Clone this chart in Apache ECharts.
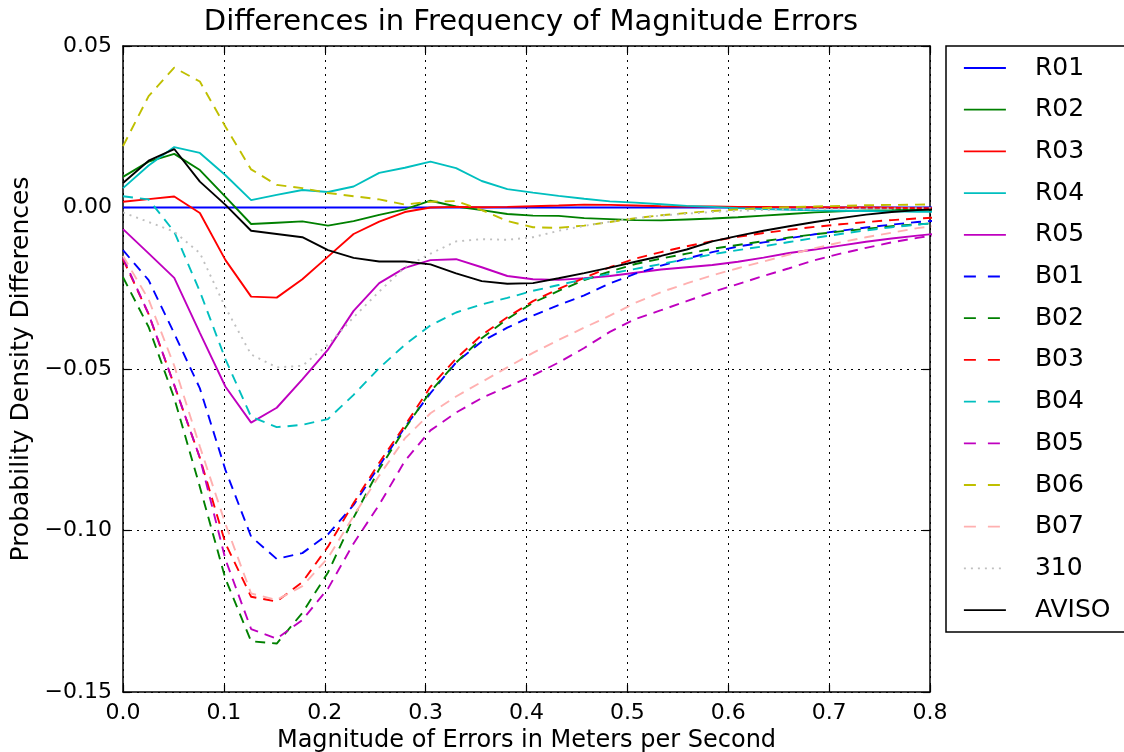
<!DOCTYPE html>
<html>
<head>
<meta charset="utf-8">
<script src="https://cdn.jsdelivr.net/npm/echarts@6/dist/echarts.min.js"></script>
<style>html,body{margin:0;padding:0;background:#fff;}#chart{width:1124px;height:752px;}</style>
</head>
<body>
<div id="chart"></div>
<script>
// x positions of the samples (m/s)
const xValues = [0.0000, 0.0254, 0.0508, 0.0762, 0.1016, 0.1270, 0.1524, 0.1778, 0.2032, 0.2286, 0.2540, 0.2794, 0.3048, 0.3302, 0.3556, 0.3810, 0.4064, 0.4318, 0.4572, 0.4826, 0.5080, 0.5334, 0.5588, 0.5842, 0.6096, 0.6350, 0.6604, 0.6858, 0.7112, 0.7366, 0.7620, 0.7874, 0.8128];

const R01 = [0,0,0,0,0,0,0,0,0,0,0,0,0,0,0,0,0,0,0,0,0,0,0,0,0,0,0,0,0,0,0,0,0];
const R02 = [0.0095,0.0142,0.0166,0.0116,0.0033,-0.0051,-0.0047,-0.0043,-0.0056,-0.0042,-0.0023,-0.0006,0.0021,0.0003,-0.0008,-0.0020,-0.0025,-0.0026,-0.0033,-0.0036,-0.0039,-0.0040,-0.0037,-0.0034,-0.0030,-0.0025,-0.0020,-0.0015,-0.0012,-0.0009,-0.0008,-0.0006,-0.0006];
const R03 = [0.0018,0.0026,0.0034,-0.0017,-0.0163,-0.0276,-0.0279,-0.0222,-0.0152,-0.0082,-0.0044,-0.0014,0.0000,0.0002,0.0001,0.0002,0.0004,0.0006,0.0009,0.0008,0.0006,0.0004,0.0003,0.0003,0.0002,0.0002,0.0001,0.0001,0.0000,0.0000,-0.0001,-0.0002,-0.0002];
const R04 = [0.0060,0.0130,0.0187,0.0169,0.0100,0.0023,0.0039,0.0054,0.0048,0.0065,0.0107,0.0123,0.0142,0.0122,0.0082,0.0057,0.0046,0.0036,0.0027,0.0019,0.0015,0.0010,0.0005,0.0002,-0.0002,-0.0005,-0.0007,-0.0009,-0.0010,-0.0011,-0.0012,-0.0013,-0.0014];
const R05 = [-0.0067,-0.0142,-0.0218,-0.0388,-0.0555,-0.0666,-0.0620,-0.0532,-0.0440,-0.0320,-0.0234,-0.0187,-0.0163,-0.0160,-0.0185,-0.0212,-0.0222,-0.0224,-0.0219,-0.0212,-0.0202,-0.0192,-0.0185,-0.0178,-0.0168,-0.0155,-0.0141,-0.0130,-0.0118,-0.0106,-0.0096,-0.0087,-0.0079];
const B01 = [-0.0132,-0.0225,-0.0390,-0.0560,-0.0813,-0.1019,-0.1088,-0.1070,-0.1012,-0.0921,-0.0800,-0.0680,-0.0575,-0.0480,-0.0415,-0.0372,-0.0335,-0.0302,-0.0272,-0.0235,-0.0205,-0.0180,-0.0158,-0.0138,-0.0121,-0.0108,-0.0095,-0.0083,-0.0072,-0.0062,-0.0053,-0.0045,-0.0039];
const B02 = [-0.0216,-0.0370,-0.0590,-0.0865,-0.1150,-0.1343,-0.1350,-0.1255,-0.1130,-0.0960,-0.0810,-0.0685,-0.0570,-0.0480,-0.0405,-0.0345,-0.0295,-0.0258,-0.0225,-0.0198,-0.0175,-0.0158,-0.0143,-0.0128,-0.0116,-0.0104,-0.0093,-0.0083,-0.0074,-0.0066,-0.0058,-0.0052,-0.0047];
const B03 = [-0.0160,-0.0330,-0.0550,-0.0775,-0.1040,-0.1205,-0.1220,-0.1160,-0.1050,-0.0915,-0.0790,-0.0675,-0.0555,-0.0468,-0.0395,-0.0340,-0.0290,-0.0252,-0.0218,-0.0185,-0.0158,-0.0138,-0.0120,-0.0104,-0.0091,-0.0079,-0.0069,-0.0060,-0.0052,-0.0045,-0.0039,-0.0034,-0.0030];
const B04 = [0.0035,0.0025,-0.0075,-0.0260,-0.0470,-0.0648,-0.0680,-0.0673,-0.0655,-0.0580,-0.0497,-0.0425,-0.0365,-0.0325,-0.0300,-0.0280,-0.0258,-0.0240,-0.0222,-0.0205,-0.0190,-0.0175,-0.0160,-0.0145,-0.0132,-0.0120,-0.0107,-0.0094,-0.0082,-0.0071,-0.0061,-0.0053,-0.0046];
const B05 = [-0.0155,-0.0330,-0.0550,-0.0775,-0.1090,-0.1305,-0.1335,-0.1277,-0.1180,-0.1040,-0.0920,-0.0785,-0.0690,-0.0635,-0.0590,-0.0555,-0.0520,-0.0480,-0.0435,-0.0385,-0.0345,-0.0318,-0.0290,-0.0262,-0.0237,-0.0212,-0.0188,-0.0163,-0.0143,-0.0125,-0.0108,-0.0094,-0.0082];
const B06 = [0.0190,0.0345,0.0433,0.0390,0.0250,0.0118,0.0070,0.0060,0.0045,0.0035,0.0025,0.0009,0.0018,0.0020,-0.0008,-0.0042,-0.0061,-0.0063,-0.0056,-0.0045,-0.0033,-0.0024,-0.0017,-0.0011,-0.0006,-0.0002,0.0001,0.0003,0.0005,0.0007,0.0008,0.0009,0.0010];
const B07 = [-0.0150,-0.0285,-0.0490,-0.0740,-0.0980,-0.1195,-0.1215,-0.1172,-0.1085,-0.0955,-0.0830,-0.0715,-0.0637,-0.0585,-0.0540,-0.0495,-0.0450,-0.0410,-0.0372,-0.0335,-0.0295,-0.0262,-0.0235,-0.0210,-0.0188,-0.0167,-0.0146,-0.0126,-0.0108,-0.0092,-0.0078,-0.0064,-0.0054];
const S310 = [-0.0015,-0.0045,-0.0075,-0.0141,-0.0310,-0.0455,-0.0495,-0.0490,-0.0425,-0.0340,-0.0260,-0.0185,-0.0143,-0.0105,-0.0098,-0.0100,-0.0092,-0.0072,-0.0057,-0.0044,-0.0033,-0.0025,-0.0019,-0.0014,-0.0010,-0.0008,-0.0006,-0.0005,-0.0004,-0.0003,-0.0003,-0.0002,-0.0002];
const AVISO = [0.0076,0.0145,0.0181,0.0080,0.0008,-0.0072,-0.0082,-0.0092,-0.0132,-0.0156,-0.0167,-0.0167,-0.0176,-0.0204,-0.0228,-0.0236,-0.0234,-0.0219,-0.0203,-0.0186,-0.0168,-0.0150,-0.0130,-0.0105,-0.0088,-0.0072,-0.0058,-0.0045,-0.0033,-0.0022,-0.0014,-0.0008,-0.0005];

const yTicks = [-0.15, -0.10, -0.05, 0.00, 0.05];
const xTicks = [0.0, 0.1, 0.2, 0.3, 0.4, 0.5, 0.6, 0.7, 0.8];

const seriesDefs = [
  {name: 'R01', data: R01, color: '#0000ff', type: 'solid'},
  {name: 'R02', data: R02, color: '#008000', type: 'solid'},
  {name: 'R03', data: R03, color: '#ff0000', type: 'solid'},
  {name: 'R04', data: R04, color: '#00bfbf', type: 'solid'},
  {name: 'R05', data: R05, color: '#bf00bf', type: 'solid'},
  {name: 'B01', data: B01, color: '#0000ff', type: 'dashed'},
  {name: 'B02', data: B02, color: '#008000', type: 'dashed'},
  {name: 'B03', data: B03, color: '#ff0000', type: 'dashed'},
  {name: 'B04', data: B04, color: '#00bfbf', type: 'dashed'},
  {name: 'B05', data: B05, color: '#bf00bf', type: 'dashed'},
  {name: 'B06', data: B06, color: '#bfbf00', type: 'dashed'},
  {name: 'B07', data: B07, color: '#ffb0b0', type: 'dashed'},
  {name: '310', data: S310, color: '#c0c0c0', type: 'dotted'},
  {name: 'AVISO', data: AVISO, color: '#000000', type: 'solid'}
];

const dashFor = t => t === 'dashed' ? [10, 7] : (t === 'dotted' ? [2, 5] : 'solid');
const legendDashFor = t => t === 'dashed' ? [12, 12] : (t === 'dotted' ? [2, 5] : 'solid');

const FONT = 'DejaVu Sans';
const chart = echarts.init(document.getElementById('chart'), null, {renderer: 'canvas'});

const fmtY = v => {
  const s = Math.abs(v) < 1e-9 ? '0.00' : v.toFixed(2);
  return s.replace('-', '\u2212');
};

const axisCommon = {
  type: 'value',
  axisLine: {show: true, onZero: false, lineStyle: {color: '#000', width: 1.5}},
  axisTick: {show: true, inside: true, length: 7, lineStyle: {color: '#000', width: 1.2}},
};

const option = {
  backgroundColor: '#ffffff',
  animation: false,
  title: {
    text: 'Differences in Frequency of Magnitude Errors',
    left: 526, top: 3, textAlign: 'center',
    textStyle: {fontFamily: FONT, fontSize: 29, fontWeight: 'normal', color: '#000'}
  },
  legend: {
    orient: 'vertical',
    left: 946, top: 46,
    padding: [9.5, 80, 9.5, 17],
    itemWidth: 42, itemHeight: 22, itemGap: 16.7,
    borderColor: '#000', borderWidth: 1.5,
    textStyle: {fontFamily: FONT, fontSize: 25, color: '#000', padding: [0, 0, 0, 24]},
    data: seriesDefs.map(s => ({
      name: s.name,
      lineStyle: {color: s.color, width: 1.8, type: legendDashFor(s.type)},
      itemStyle: {color: s.color, opacity: 0}
    }))
  },
  grid: {left: 123, right: 194, top: 46, bottom: 60, containLabel: false, outerBoundsMode: 'none'},
  xAxis: [
    Object.assign({}, axisCommon, {
      min: xTicks[0], max: xTicks[xTicks.length - 1], interval: 0.1,
      position: 'bottom',
      name: 'Magnitude of Errors in Meters per Second',
      nameLocation: 'middle', nameGap: 33,
      nameTextStyle: {fontFamily: FONT, fontSize: 24, color: '#000'},
      axisLabel: {show: true, margin: 10, fontFamily: FONT, fontSize: 22, color: '#000',
        formatter: v => v.toFixed(1)},
      splitLine: {show: true, lineStyle: {color: '#000', width: 1, type: [2, 5]}}
    }),
    Object.assign({}, axisCommon, {
      min: xTicks[0], max: xTicks[xTicks.length - 1], interval: 0.1,
      position: 'top',
      axisLabel: {show: false},
      splitLine: {show: false}
    })
  ],
  yAxis: [
    Object.assign({}, axisCommon, {
      min: yTicks[0], max: yTicks[yTicks.length - 1], interval: 0.05,
      position: 'left',
      name: 'Probability Density Differences',
      nameLocation: 'middle', nameGap: 88, nameRotate: 90,
      nameTextStyle: {fontFamily: FONT, fontSize: 25, color: '#000'},
      axisLabel: {show: true, margin: 11, fontFamily: FONT, fontSize: 22, color: '#000', formatter: fmtY},
      splitLine: {show: true, lineStyle: {color: '#000', width: 1, type: [2, 5]}}
    }),
    Object.assign({}, axisCommon, {
      min: yTicks[0], max: yTicks[yTicks.length - 1], interval: 0.05,
      position: 'right',
      axisLabel: {show: false},
      splitLine: {show: false}
    })
  ],
  series: seriesDefs.map(s => ({
    name: s.name,
    type: 'line',
    xAxisIndex: 0, yAxisIndex: 0,
    data: xValues.map((x, i) => [x, s.data[i]]),
    showSymbol: false,
    symbol: 'none',
    clip: true,
    smooth: false,
    color: s.color,
    lineStyle: {color: s.color, width: 1.9, type: dashFor(s.type)},
    emphasis: {disabled: true}
  }))
};
chart.setOption(option);
</script>
</body>
</html>
